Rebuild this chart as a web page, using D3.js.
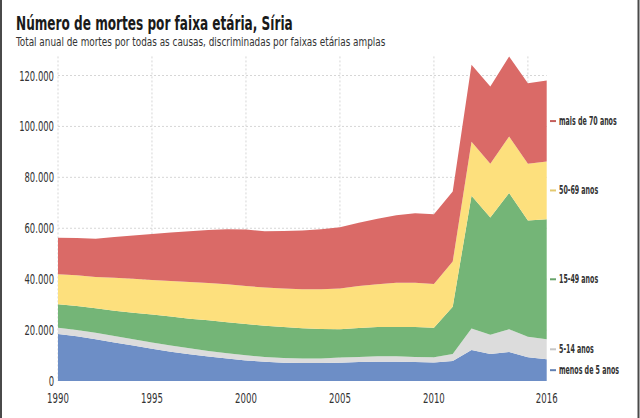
<!DOCTYPE html>
<html>
<head>
<meta charset="utf-8">
<script src="https://cdn.jsdelivr.net/npm/d3@7"></script>
<style>
  html, body { margin: 0; padding: 0; background: #fff; }
  svg { display: block; }
  text { font-family: 'Liberation Sans Narrow', 'DejaVu Sans Condensed', 'Roboto Condensed', sans-serif; font-stretch: condensed; }
</style>
</head>
<body>
<svg id="chart" width="640" height="418"></svg>
<script>
// ---- data ----
const years = [1990,1991,1992,1993,1994,1995,1996,1997,1998,1999,2000,2001,2002,2003,2004,2005,2006,2007,2008,2009,2010,2011,2012,2013,2014,2015,2016];
const under5   = [18500,17600,16400,15100,13900,12700,11500,10500,9600,8800,8100,7600,7200,7100,7100,7200,7500,7600,7600,7500,7300,7900,12200,10600,11400,9300,8500];
const age5_14  = [2400,2400,2600,2600,2500,2400,2400,2400,2200,2100,2000,1800,1800,1700,1700,2000,1900,2100,2100,1900,2000,2700,8400,7600,8900,8100,7900];
const age15_49 = [9200,9500,9600,9900,10400,11000,11400,11600,12100,12200,12300,12300,12200,11900,11600,11100,11400,11500,11500,11800,11600,18600,52200,46000,53500,45600,47100];
const age50_69 = [11800,12000,12300,13000,13400,13600,14000,14400,14600,14900,14900,15000,15100,15300,15600,16000,16500,16800,17400,17400,17200,17700,21200,21100,22200,22300,22700];
const age70    = [14400,14700,15000,16000,17000,18000,19000,19900,20800,21600,22200,22100,22600,23100,23600,24100,24900,25700,26500,27300,27400,27500,30200,30400,31500,31700,31800];
const seriesKeys   = ["menos de 5 anos","5-14 anos","15-49 anos","50-69 anos","mais de 70 anos"];
const seriesValues = [under5, age5_14, age15_49, age50_69, age70];
const seriesColors = ["#6d8ec6","#dcdcdc","#74b577","#fde07d","#da6a67"];
const yTicks = [0,20000,40000,60000,80000,100000,120000];
const xTickLabels = [1990,1995,2000,2005,2010,2016];
const xGridYears = [1990,1995,2000,2005,2010,2015];
const title = "Número de mortes por faixa etária, Síria";
const subtitle = "Total anual de mortes por todas as causas, discriminadas por faixas etárias amplas";

// ---- build table ----
const table = years.map((yr, i) => {
  const row = { year: yr };
  seriesKeys.forEach((k, j) => row[k] = seriesValues[j][i]);
  return row;
});

const svg = d3.select("#chart");
const W = 640, H = 418;
const left = 58, right = 546.7, bottom = 381;

const x = d3.scaleLinear().domain([1990, 2016]).range([left, right]);
const y = d3.scaleLinear().domain([0, 120000]).range([bottom, 75.5]);
const totals = table.map(r => d3.sum(seriesKeys, k => r[k]));
const yTop = y(d3.max(totals));

// frame lines
svg.append("line").attr("x1",1).attr("x2",1).attr("y1",0).attr("y2",H).attr("stroke","#4a4a4a").attr("stroke-width",2);
svg.append("line").attr("x1",638.5).attr("x2",638.5).attr("y1",0).attr("y2",H).attr("stroke","#4a4a4a").attr("stroke-width",2);

// title (horizontally condensed via transform)
function fitWidth(textSel, target) {
  const node = textSel.node();
  const w = node.getComputedTextLength();
  return target / w;
}
const tTitle = svg.append("text").attr("x",0).attr("y",0)
  .attr("font-size",20).attr("font-weight","bold").attr("fill","#1a1a1a")
  .text(title);
tTitle.attr("transform", `translate(16,29.5) scale(${fitWidth(tTitle, 277)},1)`);
const tSub = svg.append("text").attr("x",0).attr("y",0)
  .attr("font-size",12).attr("fill","#333")
  .text(subtitle);
tSub.attr("transform", `translate(16,45.5) scale(${fitWidth(tSub, 370)},1)`);

// grid
const grid = svg.append("g");
grid.selectAll("line.h").data(yTicks.filter(d => d > 0)).join("line")
  .attr("x1", left).attr("x2", right)
  .attr("y1", d => y(d)).attr("y2", d => y(d))
  .attr("stroke","#d6d6d6").attr("stroke-width",1).attr("stroke-dasharray","2,2");
grid.selectAll("line.v").data(xGridYears).join("line")
  .attr("x1", d => x(d)).attr("x2", d => x(d))
  .attr("y1", yTop).attr("y2", bottom)
  .attr("stroke","#d6d6d6").attr("stroke-width",1).attr("stroke-dasharray","2,2");

// stacked areas
const stack = d3.stack().keys(seriesKeys);
const layers = stack(table);
const area = d3.area()
  .x(d => x(d.data.year))
  .y0(d => y(d[0]))
  .y1(d => y(d[1]));
svg.append("g").selectAll("path").data(layers).join("path")
  .attr("d", area)
  .attr("fill", (d, i) => seriesColors[i]);

// y axis labels
const loc = d3.formatLocale({decimal: ",", thousands: ".", grouping: [3], currency: ["", ""]});
const fmt = loc.format(",");
svg.append("g").selectAll("text").data(yTicks).join("text")
  .attr("x", 0).attr("y", 0).attr("dy","0.36em")
  .attr("transform", d => `translate(54,${y(d)}) scale(0.67,1)`)
  .attr("text-anchor","end").attr("font-size",14).attr("fill","#333")
  .text(d => fmt(d));

// x axis labels
svg.append("g").selectAll("text").data(xTickLabels).join("text")
  .attr("x", 0).attr("y", 0)
  .attr("transform", d => `translate(${x(d)},403) scale(0.68,1)`)
  .attr("text-anchor","middle").attr("font-size",14).attr("fill","#333")
  .text(d => d);

// legend at middle of last band
const lastIdx = years.length - 1;
const leg = svg.append("g");
layers.forEach((L, i) => {
  const p = L[lastIdx];
  const ym = y((p[0] + p[1]) / 2);
  leg.append("line").attr("x1", 550).attr("x2", 556).attr("y1", ym).attr("y2", ym)
    .attr("stroke", d3.color(seriesColors[i]).darker(0.3)).attr("stroke-width", 2);
  leg.append("text").attr("x", 0).attr("y", 0).attr("dy","0.35em")
    .attr("transform", `translate(559,${ym}) scale(0.61,1)`)
    .attr("font-size", 11.5).attr("font-weight","bold").attr("fill","#333")
    .text(seriesKeys[i]);
});
</script>
</body>
</html>
